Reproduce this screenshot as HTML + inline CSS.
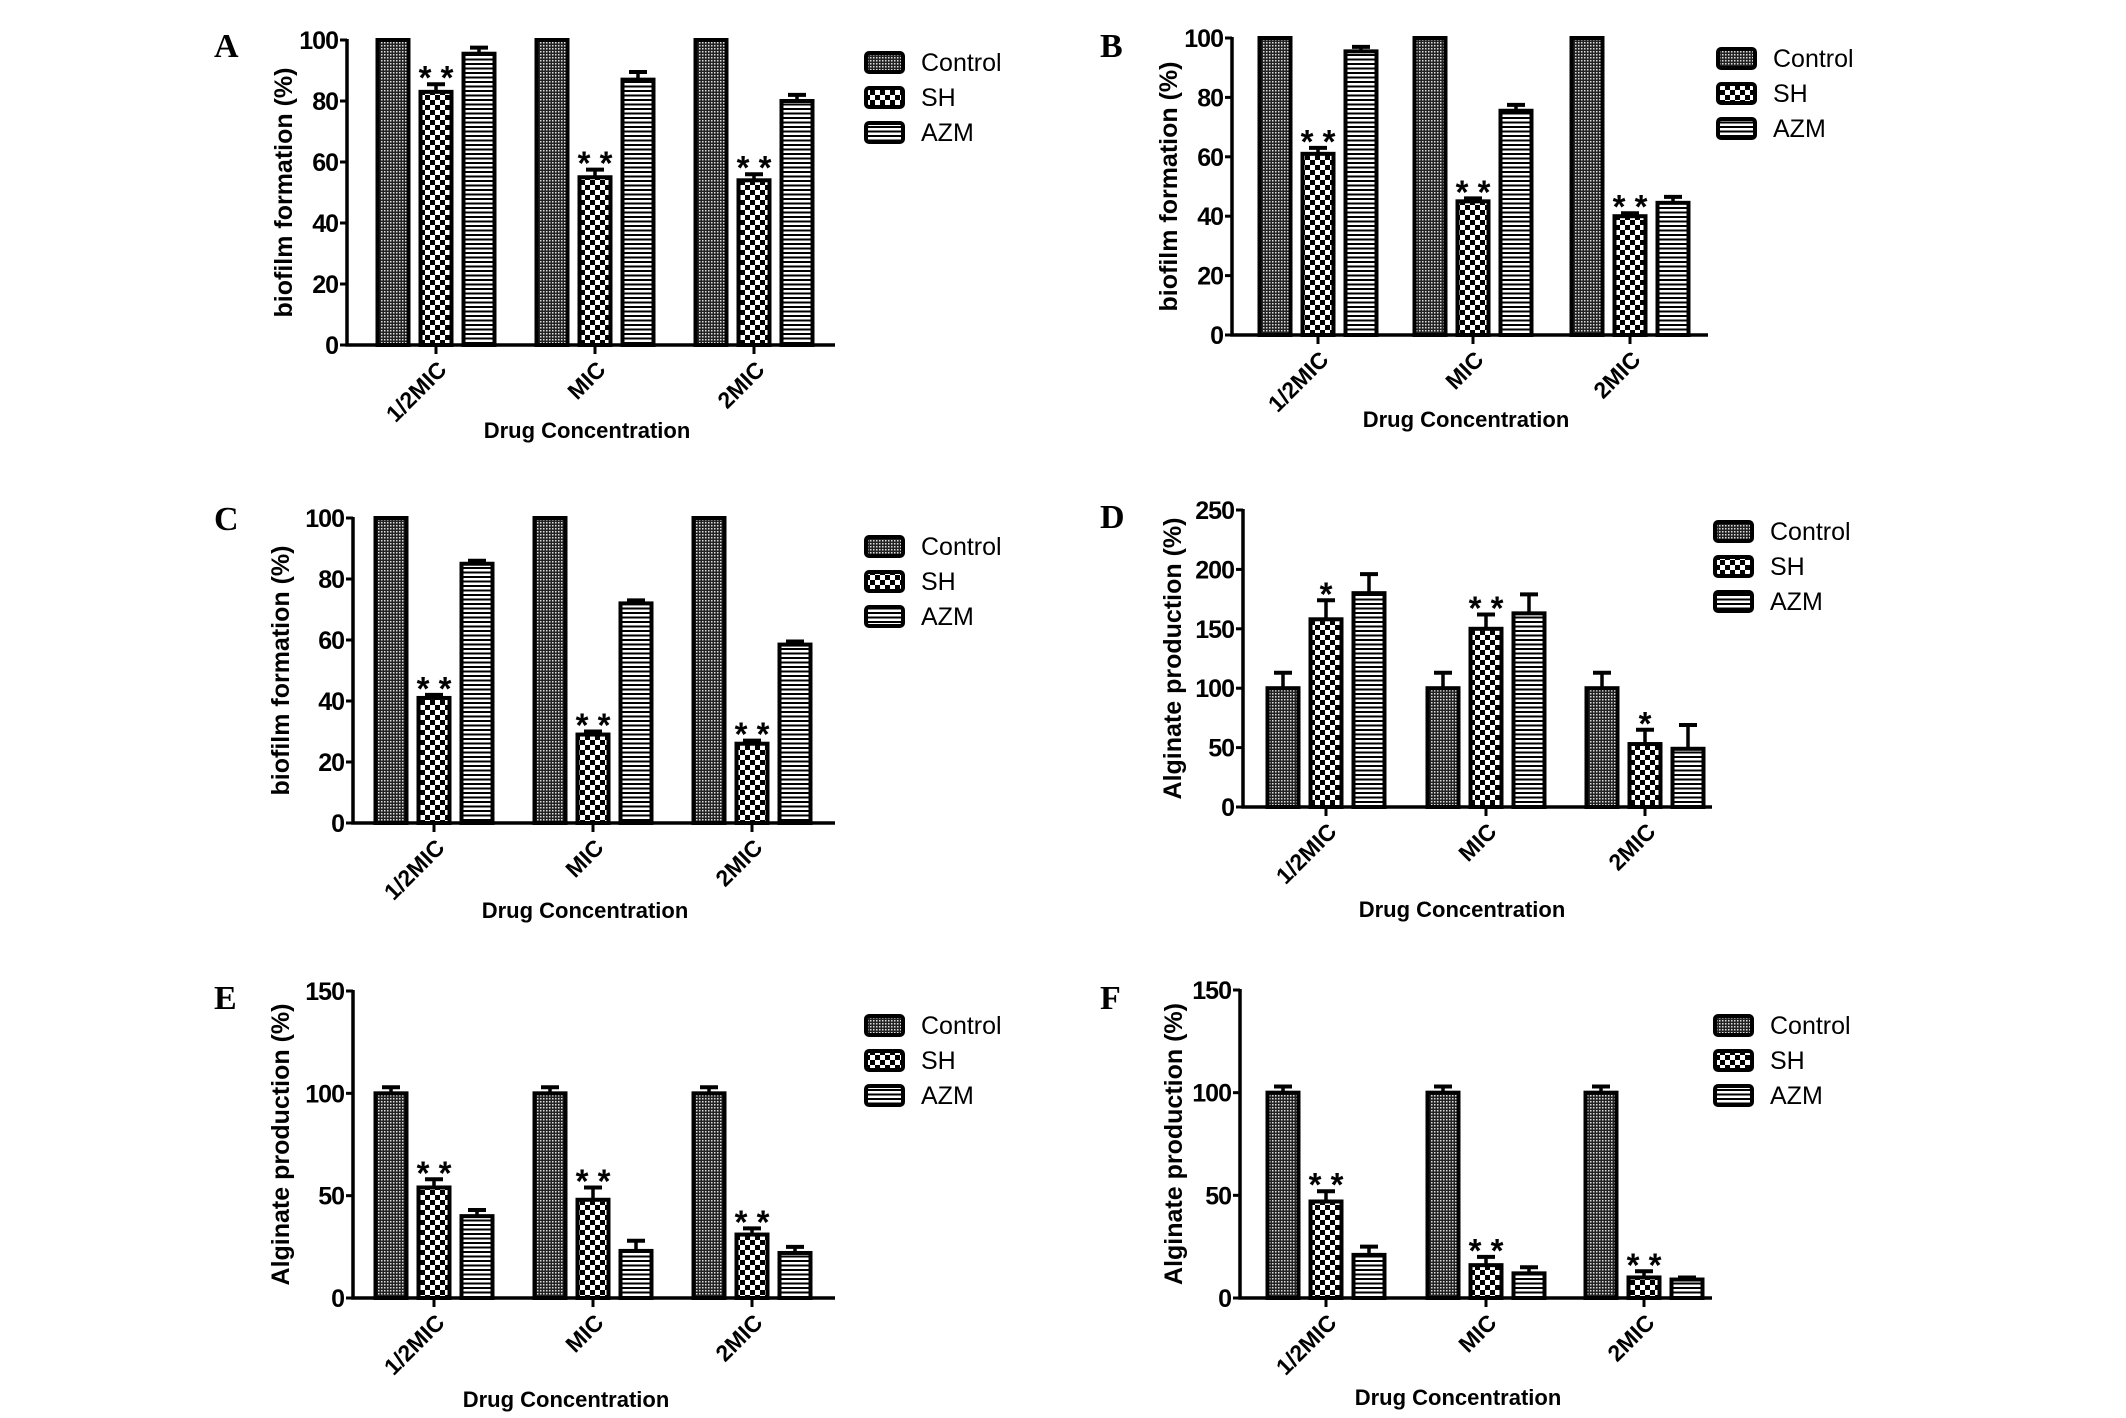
<!DOCTYPE html>
<html><head><meta charset="utf-8"><style>
html,body{margin:0;padding:0;background:#fff;}
svg{display:block;}
text{font-family:"Liberation Sans",Arial,sans-serif;}
</style></head>
<body>
<svg id="fig" xmlns="http://www.w3.org/2000/svg" width="2126" height="1418" viewBox="0 0 2126 1418">
<defs>
<pattern id="pCtrl" width="3" height="3" patternUnits="userSpaceOnUse"><rect width="3" height="3" fill="#222"/><rect width="1.5" height="1.5" fill="#ddd"/></pattern>
<pattern id="pSH" width="10" height="10" patternUnits="userSpaceOnUse"><rect width="10" height="10" fill="#fff"/><rect width="5" height="5" fill="#000"/><rect x="5" y="5" width="5" height="5" fill="#000"/></pattern>
<pattern id="pAZM" width="4.5" height="4.5" patternUnits="userSpaceOnUse"><rect width="4.5" height="4.5" fill="#fff"/><rect width="4.5" height="2" fill="#000"/></pattern>
</defs>
<rect width="2126" height="1418" fill="#fff"/>
</svg>
<script>
var categories = ["1/2MIC", "MIC", "2MIC"];
var seriesNames = ["Control", "SH", "AZM"];

var aControl = [100, 100, 100];   var aControlErr = [0, 0, 0];
var aSH = [83, 55, 54];           var aSHErr = [2.5, 2.5, 2];
var aAZM = [95.5, 87, 80];        var aAZMErr = [2, 2.5, 2];
var aStars = ["* *", "* *", "* *"];
var aTicks = [0, 20, 40, 60, 80, 100];

var bControl = [100, 100, 100];   var bControlErr = [0, 0, 0];
var bSH = [61, 45, 40];           var bSHErr = [2, 1, 1];
var bAZM = [95.5, 75.5, 44.5];    var bAZMErr = [1.5, 2, 2];
var bStars = ["* *", "* *", "* *"];
var bTicks = [0, 20, 40, 60, 80, 100];

var cControl = [100, 100, 100];   var cControlErr = [0, 0, 0];
var cSH = [41, 29, 26];           var cSHErr = [1, 1, 1];
var cAZM = [85, 72, 58.5];        var cAZMErr = [1, 1, 1];
var cStars = ["* *", "* *", "* *"];
var cTicks = [0, 20, 40, 60, 80, 100];

var dControl = [100, 100, 100];   var dControlErr = [13, 13, 13];
var dSH = [158, 150, 53];         var dSHErr = [16, 12, 12];
var dAZM = [180, 163, 49];        var dAZMErr = [16, 16, 20];
var dStars = ["*", "* *", "*"];
var dTicks = [0, 50, 100, 150, 200, 250];

var eControl = [100, 100, 100];   var eControlErr = [3, 3, 3];
var eSH = [54, 48, 31];           var eSHErr = [4, 6, 3];
var eAZM = [40, 23, 22];          var eAZMErr = [3, 5, 3];
var eStars = ["* *", "* *", "* *"];
var eTicks = [0, 50, 100, 150];

var fControl = [100, 100, 100];   var fControlErr = [3, 3, 3];
var fSH = [47, 16, 10];           var fSHErr = [5, 4, 3];
var fAZM = [21, 12, 9];           var fAZMErr = [4, 3, 1];
var fStars = ["* *", "* *", "* *"];
var fTicks = [0, 50, 100, 150];

var NS = "http://www.w3.org/2000/svg";
var svg = document.getElementById("fig");
function mk(tag, attrs, parent, txt) {
  var e = document.createElementNS(NS, tag);
  for (var k in attrs) e.setAttribute(k, attrs[k]);
  if (txt !== undefined) e.textContent = txt;
  (parent || svg).appendChild(e);
  return e;
}

function panel(cfg) {
  var g = mk("g", {});
  
  
  var max = cfg.ticks[cfg.ticks.length - 1];
  function y(v) { return cfg.y0 - (v / max) * (cfg.y0 - cfg.yTop); }
  function x(i) { return cfg.cx[i]; }
  var lbl = mk("text", {x: cfg.lx, y: cfg.ly, style: "font-family:'Liberation Serif',serif;font-weight:bold;font-size:34px"}, g, cfg.id.toUpperCase());
  
  
  var series = [cfg.control, cfg.sh, cfg.azm], errs = [cfg.controlErr, cfg.shErr, cfg.azmErr];
  var fills = ["url(#pCtrl)", "url(#pSH)", "url(#pAZM)"];
  var offs = [-43, 0, 43], bw = 31;
  for (var s = 0; s < 3; s++) {
    for (var i = 0; i < categories.length; i++) {
      var v = series[s][i], e = errs[s][i];
      var cx = x(i) + offs[s];
      if (e > 0) {
        var el = mk("line", {x1: cx, x2: cx, y1: y(v), y2: y(v + e), stroke: "#000", "stroke-width": 3.5}, g);
        
        
        var cap = mk("line", {x1: cx - 9, x2: cx + 9, y1: y(v + e), y2: y(v + e), stroke: "#000", "stroke-width": 4}, g);
        
        
      }
      var r = mk("rect", {x: cx - bw / 2, y: y(v), width: bw, height: y(0) - y(v), fill: fills[s], stroke: "#000", "stroke-width": 4}, g);
      
      
      if (s === 1) {
        var st = mk("text", {x: cx, y: y(v + e) + 5, "text-anchor": "middle", "font-size": 33, "font-weight": "bold", "xml:space": "preserve"}, g, cfg.stars[i]);
        
        
      }
    }
  }
  var ax = mk("path", {d: "M" + cfg.ax + "," + (cfg.yTop - 1) + " V" + cfg.y0 + " H" + cfg.xEnd, fill: "none", stroke: "#000", "stroke-width": 3.5}, g);
  
  
  cfg.ticks.forEach(function (t) {
    var tk = mk("line", {x1: cfg.ax - 7, x2: cfg.ax, y1: y(t), y2: y(t), stroke: "#000", "stroke-width": 3}, g);
    
    
    var tl = mk("text", {x: cfg.ax - 9, y: y(t) + 9, "text-anchor": "end", "font-size": 25, "font-weight": "bold", "letter-spacing": "-1"}, g, String(t));
    
    
  });
  categories.forEach(function (c, i) {
    var tk = mk("line", {x1: x(i), x2: x(i), y1: cfg.y0, y2: cfg.y0 + 9, stroke: "#000", "stroke-width": 3}, g);
    
    
    var tx = x(i) + 12, ty = cfg.y0 + 26;
    var cl = mk("text", {x: tx, y: ty, "text-anchor": "end", "font-size": 23, "font-weight": "bold", transform: "rotate(-45 " + tx + " " + ty + ")"}, g, c);
    
    
  });
  var my = (cfg.yTop + cfg.y0) / 2;
  var yt = mk("text", {x: cfg.ytx, y: my, "text-anchor": "middle", "font-size": 25, "font-weight": "bold", transform: "rotate(-90 " + cfg.ytx + " " + my + ")"}, g, cfg.ytitle);
  
  
  var xt = mk("text", {x: cfg.xtx, y: cfg.xty, "text-anchor": "middle", "font-size": 22, "font-weight": "bold"}, g, "Drug Concentration");
  
  
  var lg = mk("g", {}, g);
  
  
  for (var k = 0; k < 3; k++) {
    var ly = cfg.legY + k * 35;
    var sw = mk("rect", {x: cfg.legX, y: ly - 9, width: 37, height: 19, rx: 3, fill: fills[k], stroke: "#000", "stroke-width": 4}, lg);
    
    
    var lt = mk("text", {x: cfg.legX + 55, y: ly + 9, "font-size": 25}, lg, seriesNames[k]);
    
    
  }
}

panel({id: "a", control: aControl, controlErr: aControlErr, sh: aSH, shErr: aSHErr, azm: aAZM, azmErr: aAZMErr, stars: aStars, ticks: aTicks,
  ax: 347, yTop: 40, y0: 345, xEnd: 835, cx: [436, 595, 754], lx: 214, ly: 57, ytx: 292, ytitle: "biofilm formation (%)",
  xtx: 587, xty: 438, legX: 866, legY: 62});
panel({id: "b", control: bControl, controlErr: bControlErr, sh: bSH, shErr: bSHErr, azm: bAZM, azmErr: bAZMErr, stars: bStars, ticks: bTicks,
  ax: 1232, yTop: 38, y0: 335, xEnd: 1708, cx: [1318, 1473, 1630], lx: 1100, ly: 57, ytx: 1177, ytitle: "biofilm formation (%)",
  xtx: 1466, xty: 427, legX: 1718, legY: 58});
panel({id: "c", control: cControl, controlErr: cControlErr, sh: cSH, shErr: cSHErr, azm: cAZM, azmErr: cAZMErr, stars: cStars, ticks: cTicks,
  ax: 353, yTop: 518, y0: 823, xEnd: 835, cx: [434, 593, 752], lx: 214, ly: 530, ytx: 289, ytitle: "biofilm formation (%)",
  xtx: 585, xty: 918, legX: 866, legY: 546});
panel({id: "d", control: dControl, controlErr: dControlErr, sh: dSH, shErr: dSHErr, azm: dAZM, azmErr: dAZMErr, stars: dStars, ticks: dTicks,
  ax: 1243, yTop: 510, y0: 807, xEnd: 1712, cx: [1326, 1486, 1645], lx: 1100, ly: 528, ytx: 1181, ytitle: "Alginate production (%)",
  xtx: 1462, xty: 917, legX: 1715, legY: 531});
panel({id: "e", control: eControl, controlErr: eControlErr, sh: eSH, shErr: eSHErr, azm: eAZM, azmErr: eAZMErr, stars: eStars, ticks: eTicks,
  ax: 353, yTop: 991, y0: 1298, xEnd: 835, cx: [434, 593, 752], lx: 214, ly: 1009, ytx: 289, ytitle: "Alginate production (%)",
  xtx: 566, xty: 1407, legX: 866, legY: 1025});
panel({id: "f", control: fControl, controlErr: fControlErr, sh: fSH, shErr: fSHErr, azm: fAZM, azmErr: fAZMErr, stars: fStars, ticks: fTicks,
  ax: 1240, yTop: 990, y0: 1298, xEnd: 1712, cx: [1326, 1486, 1644], lx: 1100, ly: 1009, ytx: 1182, ytitle: "Alginate production (%)",
  xtx: 1458, xty: 1405, legX: 1715, legY: 1025});
</script>
</body></html>
